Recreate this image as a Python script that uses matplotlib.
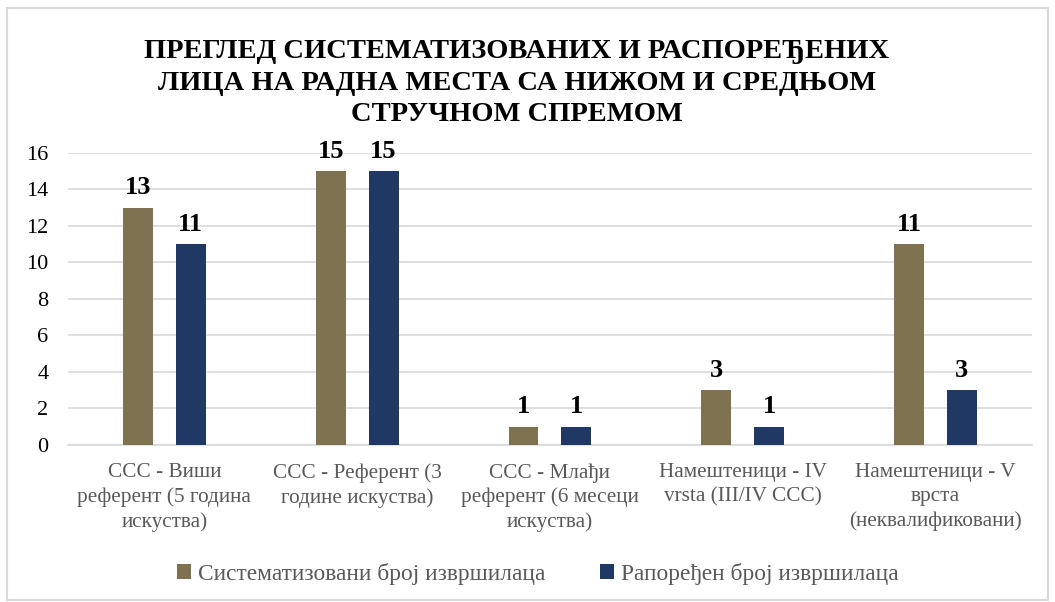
import matplotlib.pyplot as plt
from matplotlib.patches import Rectangle
import numpy as np

plt.rcParams['font.family'] = ['Liberation Serif', 'DejaVu Serif']

kategorije = ['ССС - Виши\nреферент (5 година\nискуства)',
              'ССС - Референт (3\nгодине искуства)',
              'ССС - Млађи\nреферент (6 месеци\nискуства)',
              'Намештеници - IV\nvrsta (III/IV ССС)',
              'Намештеници - V\nврста\n(неквалификовани)']
sistematizovani = [13, 15, 1, 3, 11]
rasporedjeni = [11, 15, 1, 1, 3]
serije = ['Систематизовани број извршилаца', 'Рапоређен број извршилаца']
naslov = 'ПРЕГЛЕД СИСТЕМАТИЗОВАНИХ И РАСПОРЕЂЕНИХ\nЛИЦА НА РАДНА МЕСТА СА НИЖОМ И СРЕДЊОМ\nСТРУЧНОМ СПРЕМОМ'

boja1 = '#7F7250'
boja2 = '#1F3864'
siva = '#595959'

fig = plt.figure(figsize=(10.55, 6.02), dpi=100)
ax = fig.add_axes([0.0645, 0.2608, 0.9135, 0.4851])

x = np.arange(len(kategorije))
w = 0.155
off = 0.137
b1 = ax.bar(x - off, sistematizovani, w, color=boja1, label=serije[0], zorder=3)
b2 = ax.bar(x + off, rasporedjeni, w, color=boja2, label=serije[1], zorder=3)

for bars in (b1, b2):
    for b in bars:
        ax.annotate(f'{int(b.get_height())}', (b.get_x() + b.get_width() / 2, b.get_height()),
                    xytext=(0, 6), textcoords='offset points', ha='center', va='bottom',
                    fontsize=19, fontweight='bold', color='black')

ax.set_xlim(-0.5, len(kategorije) - 0.5)
ax.set_ylim(0, 16)
ax.set_yticks(range(0, 17, 2))
ax.yaxis.grid(True, color='#D9D9D9', linewidth=1.2, zorder=0)
ax.set_axisbelow(True)
for s in ['top', 'right', 'left']:
    ax.spines[s].set_visible(False)
ax.spines['bottom'].set_color('#D9D9D9')
ax.spines['bottom'].set_linewidth(1.2)
ax.tick_params(axis='both', length=0)
ax.tick_params(axis='y', labelsize=16, labelcolor='black', pad=14)
ax.set_xticks(x)
ax.set_xticklabels(kategorije, fontsize=15.3, color=siva, linespacing=1.34)
ax.tick_params(axis='x', pad=13)

fig.text(0.49, 0.935, naslov, ha='center', va='top', fontsize=20.5, fontweight='bold',
         linespacing=1.35)

leg = fig.legend(handles=[b1, b2], labels=serije, loc='center', bbox_to_anchor=(0.51, 0.047),
                 ncol=2, frameon=False, fontsize=16.8, handlelength=0.6, handleheight=0.6,
                 handletextpad=0.3, columnspacing=2.36)
for t in leg.get_texts():
    t.set_color(siva)

fig.patches.append(Rectangle((0.0066, 0.003), 0.987, 0.983, transform=fig.transFigure,
                             fill=False, edgecolor='#D9D9D9', linewidth=1.5))

fig.savefig('out.png', dpi=100)
